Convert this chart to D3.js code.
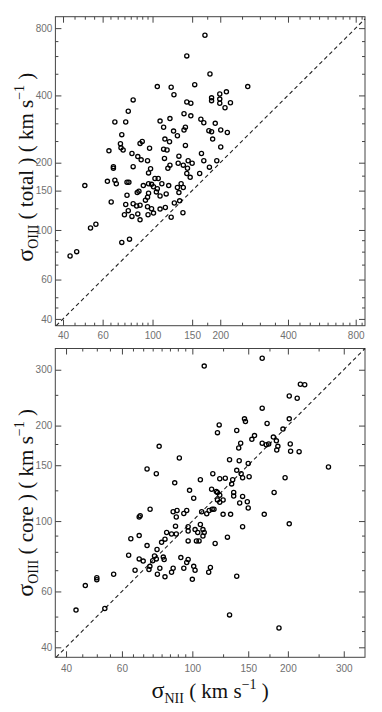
<!DOCTYPE html>
<html>
<head>
<meta charset="utf-8">
<script src="https://cdn.jsdelivr.net/npm/d3@7"></script>
<style>
  body { margin: 0; background: #fff; }
</style>
</head>
<body>
<script>
// top panel: sigma NII vs sigma OIII (total)
var topNII = [
  171, 142, 180, 265, 105, 121, 154, 124.5, 199, 213,
  183, 183, 199, 199, 222, 210, 142, 148, 82, 78,
  138, 148, 68, 76, 108, 119.5, 164, 169, 190, 112,
  140, 138, 201, 215, 178, 183, 124, 129, 73, 185,
  113.5, 119, 90, 88, 140, 72, 72.4, 74, 64, 97,
  112, 116, 201, 81, 86, 89, 95, 98, 96, 113,
  131, 130, 137, 144, 150, 165, 169, 193, 179, 67,
  67, 82, 119.5, 117, 143, 142, 162, 50, 63, 68,
  69, 77, 78.5, 91, 96, 99, 102.5, 106, 101, 105,
  110, 118, 147, 129, 134, 137, 131, 104, 108, 115,
  87, 85.5, 96, 95, 93, 77, 65.5, 76, 82, 85,
  88, 95, 99, 108, 114, 125, 132, 78, 75, 81,
  86, 88, 95.5, 101, 121, 136.5, 53, 56, 73, 79,
  43, 46
];
var topOIII = [
  744, 601, 499, 438, 438, 435, 447, 403, 406, 415,
  390, 379, 385, 369, 371, 352, 374, 369, 382, 340,
  331, 324, 304, 304, 307, 315, 313, 302, 300, 288,
  288, 280, 280, 273, 278, 275, 277, 264, 267, 255,
  255, 248, 249, 244, 239, 243, 233, 228, 226, 232,
  230, 228, 235, 220, 213, 206, 204, 188, 180, 209,
  214, 199, 195, 204, 199, 220, 204, 204, 191, 192,
  189, 192, 195, 189, 189, 179, 179, 158, 165, 167,
  161, 163.5, 163.5, 158, 161, 160, 170, 170, 156, 153,
  161, 158, 172, 155, 161, 155, 147, 148, 142, 145,
  149, 147, 146, 140, 136, 143, 133.5, 130, 131, 128,
  129, 127, 124.5, 124, 126, 132, 135, 122, 117, 115,
  118, 111, 117, 119, 114, 119.5, 102, 106, 88, 91,
  76.5, 80
];

// bottom panel: sigma NII vs sigma OIII (core)
var coreNII = [
  166, 109, 219, 226, 202, 214, 166, 146, 147, 202,
  121.5, 120, 172, 138, 193, 157, 154, 180, 184, 186,
  184.5, 166, 171, 174, 142, 140, 203.5, 204, 217, 78.6,
  91, 131, 140.5, 150, 268.5, 72, 77, 116, 138, 142.5,
  151, 144, 106, 122, 127, 134, 133, 196, 88, 98,
  101, 115, 119, 120, 122, 120, 125, 122, 135, 135,
  144, 181, 141, 149, 150, 125, 132, 168.5, 202, 107,
  111, 113, 115.5, 117, 144, 87, 89.5, 89, 94, 96,
  73.6, 68, 68.5, 88.5, 97, 97, 102, 106, 108, 104,
  109, 108, 83, 86, 89, 97, 103, 105, 118, 129,
  82, 80, 68, 64, 72, 77.4, 63, 76, 77, 75,
  81, 81.5, 68, 70, 92, 97, 96, 73.5, 73, 66,
  79, 87, 86, 94, 101, 102, 114, 112.6, 77.6, 82,
  100, 138, 56.5, 50, 50, 46, 43, 53, 131, 187.5
];
var coreOIII = [
  326, 308, 270, 269, 248, 244, 227, 210, 206, 210,
  201, 190, 203, 193, 195, 186, 181, 184, 179, 172,
  167.5, 176, 174, 175, 176, 170, 175, 166, 165.5, 172,
  158, 156, 155, 152, 148, 146, 141, 141, 144.5, 141,
  138, 137, 135, 136, 136.5, 135, 131, 137, 132, 125,
  118, 126, 124, 123, 120.6, 116.6, 116.5, 114.6, 123, 120,
  119.6, 123, 114, 115, 110, 105, 105, 105, 98, 107,
  105.5, 108, 109, 109, 96, 107, 108, 103, 105.6, 108,
  109, 103, 104, 96.4, 96, 93, 94, 97.5, 94, 92,
  92, 89.7, 92, 91, 91, 86.6, 86.6, 86.6, 85, 89,
  87.7, 85.7, 90, 88, 83.7, 81.4, 78, 77.6, 76, 75,
  77, 75.7, 76, 74.8, 76.7, 75.7, 74, 72, 70.3, 70,
  71, 71, 69, 71, 72, 70, 71.4, 69, 68, 66.7,
  65.5, 67, 68, 66.3, 65.3, 62.6, 52.4, 53, 50.6, 46
];

// ticks
var topXMajor = [40, 60, 100, 150, 200, 400, 800];
var topXMinor = [45, 50, 55, 65, 70, 75, 80, 85, 90, 95, 175, 250, 300, 350, 450, 500, 550, 600, 650, 700, 750, 850];
var topYMajor = [40, 60, 100, 150, 200, 400, 800];
var topYMinor = [45, 50, 70, 80, 90, 125, 175, 250, 300, 350, 500, 600, 700];
var botXMajor = [40, 60, 100, 150, 200, 300];
var botXMinor = [45, 50, 55, 65, 70, 75, 80, 85, 90, 95, 125, 175, 250];
var botYMajor = [40, 60, 100, 150, 200, 300];
var botYMinor = [45, 50, 70, 80, 90, 125, 175, 250];

var width = 382,
    height = 712;

var svg = d3.select("body").append("svg")
    .attr("width", width)
    .attr("height", height);

function panel(x, y, xs, ys, xMaj, xMin, yMaj, yMin, labelPad){
  var g = svg.append("g");
  var x0 = x.range()[0], x1 = x.range()[1],
      y0 = y.range()[0], y1 = y.range()[1];

  // inward ticks on all four sides
  function ticks(axis, vals, len, tr){
    g.append("g")
      .attr("transform", tr)
      .attr("color", "#444")
      .call(axis.tickValues(vals).tickSize(-len).tickFormat(""))
      .call(function(s){ s.select(".domain").remove(); });
  }
  [[xMaj, 6], [xMin, 3]].forEach(function(t){
    ticks(d3.axisBottom(x), t[0], t[1], "translate(0," + y0 + ")");
    ticks(d3.axisTop(x), t[0], t[1], "translate(0," + y1 + ")");
  });
  [[yMaj, 6], [yMin, 3]].forEach(function(t){
    ticks(d3.axisLeft(y), t[0], t[1], "translate(" + x0 + ",0)");
    ticks(d3.axisRight(y), t[0], t[1], "translate(" + x1 + ",0)");
  });

  g.append("rect")
    .attr("x", x0).attr("y", y1)
    .attr("width", x1 - x0).attr("height", y0 - y1)
    .attr("fill", "none")
    .attr("stroke", "#444")
    .attr("stroke-width", 1);

  // tick labels
  g.append("g")
    .attr("transform", "translate(0," + y0 + ")")
    .call(d3.axisBottom(x).tickValues(xMaj).tickSize(0).tickPadding(labelPad).tickFormat(d3.format("d")))
    .call(function(s){ s.select(".domain").remove(); })
    .attr("font-family", "Liberation Sans, Arial, sans-serif")
    .attr("font-size", 10)
    .attr("color", "#707070");
  g.append("g")
    .attr("transform", "translate(" + x0 + ",0)")
    .call(d3.axisLeft(y).tickValues(yMaj).tickSize(0).tickPadding(3).tickFormat(d3.format("d")))
    .call(function(s){ s.select(".domain").remove(); })
    .attr("font-family", "Liberation Sans, Arial, sans-serif")
    .attr("font-size", 10)
    .attr("color", "#707070");

  // one-to-one line
  var lo = Math.max(x.domain()[0], y.domain()[0]),
      hi = Math.min(x.domain()[1], y.domain()[1]);
  g.append("line")
    .attr("x1", x(lo)).attr("y1", y(lo))
    .attr("x2", x(hi)).attr("y2", y(hi))
    .attr("stroke", "#222")
    .attr("stroke-width", 1.1)
    .attr("stroke-dasharray", "4,3");

  g.append("g").selectAll("circle")
    .data(xs.map(function(d, i){ return [d, ys[i]]; }))
    .enter().append("circle")
      .attr("cx", function(d){ return x(d[0]); })
      .attr("cy", function(d){ return y(d[1]); })
      .attr("r", 2.1)
      .attr("fill", "none")
      .attr("stroke", "#000")
      .attr("stroke-width", 1.3);
}

var xTop = d3.scaleLog().domain([37, 880]).range([55.4, 365]);
var yTop = d3.scaleLog().domain([37.3, 900]).range([325.7, 16.7]);
panel(xTop, yTop, topNII, topOIII, topXMajor, topXMinor, topYMajor, topYMinor, 6.5);

var xBot = d3.scaleLog().domain([37, 350]).range([55.3, 365]);
var yBot = d3.scaleLog().domain([37.2, 350]).range([657.3, 348.5]);
panel(xBot, yBot, coreNII, coreOIII, botXMajor, botXMinor, botYMajor, botYMinor, 8);

// axis titles
function sigmaTitle(sel, sub, mid){
  sel.attr("font-family", "Liberation Serif, Times New Roman, serif")
    .attr("font-size", 21)
    .attr("fill", "#111")
    .attr("text-anchor", "middle");
  sel.append("tspan").attr("font-size", 24).text("σ");
  sel.append("tspan").attr("font-size", 14).attr("dy", 5).text(sub);
  sel.append("tspan").attr("dy", -5).text(mid + "( km s");
  sel.append("tspan").attr("font-size", 14).attr("dy", -9).text("−1");
  sel.append("tspan").attr("dy", 9).text(" )");
}

svg.append("text")
  .attr("transform", "translate(33," + ((yTop.range()[0] + yTop.range()[1]) / 2 - 4) + ") rotate(-90)")
  .call(sigmaTitle, "OIII", " ( total ) ");
svg.append("text")
  .attr("transform", "translate(33," + (yBot.range()[0] + yBot.range()[1]) / 2 + ") rotate(-90)")
  .call(sigmaTitle, "OIII", " ( core ) ");
svg.append("text")
  .attr("x", (xBot.range()[0] + xBot.range()[1]) / 2)
  .attr("y", 698)
  .call(sigmaTitle, "NII", " ");
</script>
</body>
</html>
